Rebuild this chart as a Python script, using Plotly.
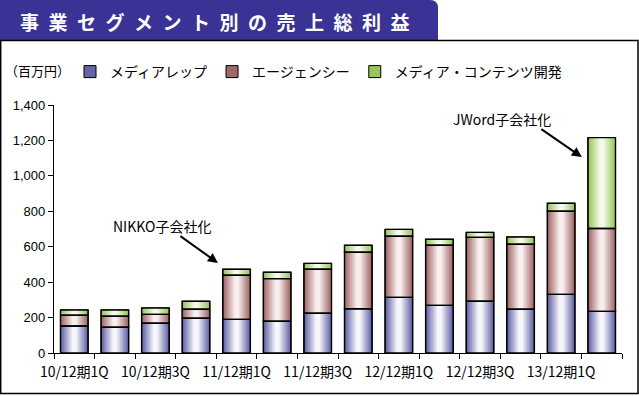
import plotly.graph_objects as go

# ---------------- data ----------------
categories = ["10/12期1Q", "10/12期2Q", "10/12期3Q", "10/12期4Q",
              "11/12期1Q", "11/12期2Q", "11/12期3Q", "11/12期4Q",
              "12/12期1Q", "12/12期2Q", "12/12期3Q", "12/12期4Q",
              "13/12期1Q", "13/12期2Q"]
tick_labels = ["10/12期1Q", "", "10/12期3Q", "", "11/12期1Q", "", "11/12期3Q", "",
               "12/12期1Q", "", "12/12期3Q", "", "13/12期1Q", ""]
series_names = ["メディアレップ", "エージェンシー", "メディア・コンテンツ開発"]
media_rep = [152, 145, 168, 196, 190, 179, 224, 250, 314, 269, 292, 247, 331, 235]
agency = [62, 63, 50, 51, 249, 241, 249, 319, 345, 339, 361, 367, 469, 468]
contents = [29, 35, 36, 45, 34, 36, 33, 39, 39, 34, 28, 41, 45, 513]
y_ticks = [0, 200, 400, 600, 800, 1000, 1200, 1400]
title_text = "事業セグメント別の売上総利益"
unit_text = "（百万円）"
note_texts = ["NIKKO子会社化", "JWord子会社化"]
note_bars = ["11/12期1Q", "13/12期2Q"]

# ---------------- styles ----------------
W, H = 639, 396
L, R, T, B = 54, 17, 105, 43
PW, PH = W - L - R, H - T - B
edge_cols = [(100, 100, 168), (160, 104, 104), (150, 198, 92)]
light_cols = [(246, 246, 252), (248, 238, 238), (244, 250, 232)]
JP = "Noto Sans CJK JP"


def px(x):
    return (x - L) / PW


def py(y):
    return (H - B - y) / PH


def mix(c1, c2, t):
    return "rgb(%d,%d,%d)" % tuple(round(a + (b - a) * t) for a, b in zip(c1, c2))


values = [media_rep, agency, contents]
bases = []
run = [0] * len(categories)
for v in values:
    bases.append(list(run))
    run = [r + x for r, x in zip(run, v)]

fig = go.Figure()
BW = 0.68
N = 9
for s in range(3):
    for k in range(N):
        t = (k / (N - 1)) ** 1.0
        frac = 1 - 0.93 * k / N
        fig.add_trace(go.Bar(
            x=categories, y=values[s], base=bases[s],
            width=BW * frac,
            marker=dict(color=mix(edge_cols[s], light_cols[s], t),
                        line=dict(width=1 if k == 0 else 0, color="black")),
            name=series_names[s],
            showlegend=(k == 0), hoverinfo="skip"))
for s in range(3):
    fig.add_trace(go.Bar(
        x=categories, y=values[s], base=bases[s], width=BW,
        marker=dict(color="rgba(0,0,0,0)", line=dict(width=1.4, color="black")),
        showlegend=False, hoverinfo="skip"))

# annotation arrows (head positions relative to bars)
idx1 = categories.index(note_bars[0])
idx2 = categories.index(note_bars[1])
tot = run
fig.add_annotation(x=idx1 - 0.46, y=tot[idx1] + 35, ax=-39, ay=-28, text="",
                   showarrow=True, arrowhead=2, arrowsize=1, arrowwidth=2, arrowcolor="black")
fig.add_annotation(x=idx1 - 1.84, y=tot[idx1] + 244, text=note_texts[0], showarrow=False,
                   font=dict(family=JP, size=14, color="black"))
fig.add_annotation(x=idx2 - 0.49, y=tot[idx2] - 110, ax=-42, ay=-29, text="",
                   showarrow=True, arrowhead=2, arrowsize=1, arrowwidth=2, arrowcolor="black")
fig.add_annotation(x=idx2 - 2.46, y=tot[idx2] + 105, text=note_texts[1], showarrow=False,
                   font=dict(family=JP, size=14, color="black"))

# title banner
r = 8
path = ("M %f %f L %f %f Q %f %f %f %f L %f %f L %f %f Z" % (
    px(0), py(0), px(438 - r), py(0), px(438), py(0), px(438), py(r),
    px(438), py(40), px(0), py(40)))
fig.add_shape(type="path", path=path, xref="paper", yref="paper",
              fillcolor="#3a3294", line=dict(width=0), layer="below")
fig.add_shape(type="rect", xref="paper", yref="paper",
              x0=px(0.7), x1=px(638), y0=py(393.5), y1=py(40.5),
              line=dict(color="black", width=1.5), fillcolor="rgba(0,0,0,0)")
fig.add_annotation(xref="paper", yref="paper", x=px(215), y=py(21),
                   xanchor="center", yanchor="middle",
                   text="\u2002".join(title_text), showarrow=False,
                   font=dict(family=JP, size=19, color="white", weight="bold"))
fig.add_annotation(xref="paper", yref="paper", x=px(37), y=py(71),
                   xanchor="center", yanchor="middle",
                   text=unit_text, showarrow=False,
                   font=dict(family=JP, size=13, color="black"))

fig.update_layout(
    width=W, height=H, margin=dict(l=L, r=R, t=T, b=B, autoexpand=False),
    paper_bgcolor="white", plot_bgcolor="white",
    barmode="overlay",
    showlegend=True,
    legend=dict(orientation="h", x=px(70), y=py(56), xanchor="left", yanchor="top",
                font=dict(family=JP, size=14, color="black"),
                bgcolor="rgba(0,0,0,0)", itemclick=False, traceorder="normal"),
    xaxis=dict(type="category", categoryorder="array", categoryarray=categories,
               tickmode="array", tickvals=categories, ticktext=tick_labels,
               tickson="boundaries", ticks="outside", ticklen=5, tickcolor="black",
               showline=True, linecolor="black", linewidth=1.2, showgrid=False,
               range=[-0.5, len(categories) - 0.5], ticklabelstandoff=6,
               tickangle=0, automargin=False,
               tickfont=dict(family=JP, size=14, color="black")),
    yaxis=dict(range=[0, 1400], tickvals=y_ticks, tickformat=",",
               ticks="outside", ticklen=5, tickcolor="black",
               showline=True, linecolor="black", linewidth=1.2, showgrid=False,
               zeroline=False, automargin=False,
               tickfont=dict(family="Liberation Sans", size=13, color="black")),
)

fig.write_html("out.html", config={"displayModeBar": False},
               post_script="document.body.style.margin='0';document.body.style.overflow='hidden';")
